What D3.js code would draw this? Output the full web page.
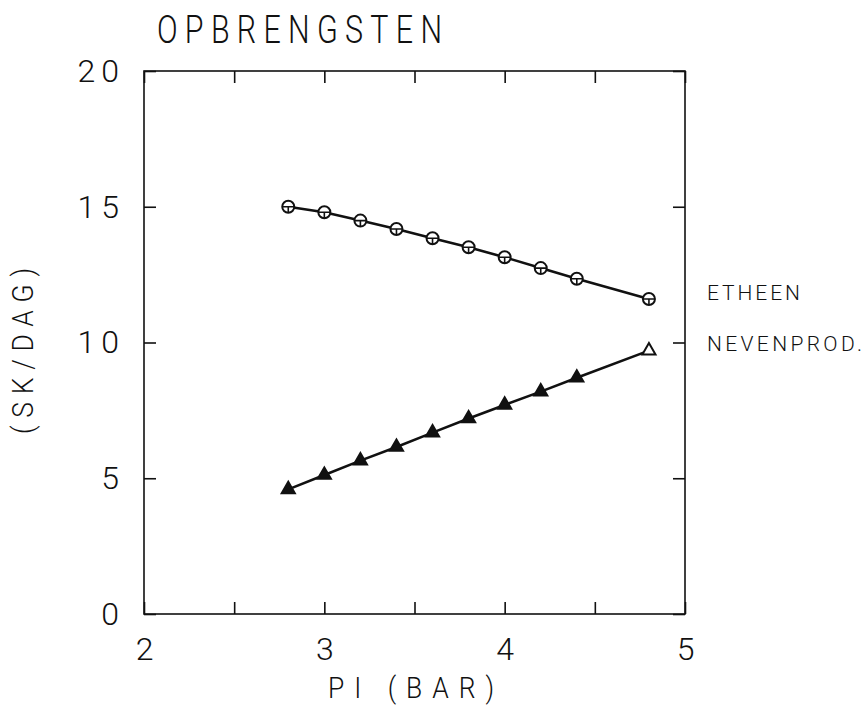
<!DOCTYPE html>
<html>
<head>
<meta charset="utf-8">
<script src="https://cdn.jsdelivr.net/npm/d3@7"></script>
<style>
  body { margin: 0; background: #fff; }
  svg { display: block; }
</style>
</head>
<body>
<svg id="chart" width="868" height="706"></svg>
<script>
// Data
const pressure = [2.8, 3.0, 3.2, 3.4, 3.6, 3.8, 4.0, 4.2, 4.4, 4.8];
const etheen = [15.0, 14.8, 14.49, 14.18, 13.84, 13.51, 13.14, 12.74, 12.35, 11.6];
const nevenprod = [4.59, 5.12, 5.65, 6.15, 6.68, 7.2, 7.7, 8.19, 8.7, 9.7];
const seriesNames = ["ETHEEN", "NEVENPROD."];
const xTicks = [2, 2.5, 3, 3.5, 4, 4.5, 5];
const yTicks = [0, 5, 10, 15, 20];

const svg = d3.select("#chart");
const font = "Roboto, 'DejaVu Sans', sans-serif";

// plot frame
const frameL = 144, frameR = 685, frameT = 71, frameB = 614;
const x = d3.scaleLinear().domain([2, 5]).range([frameL, frameR]);
const y = d3.scaleLinear().domain([0, 20]).range([frameB, frameT]);

svg.append("rect")
    .attr("x", frameL).attr("y", frameT)
    .attr("width", frameR - frameL).attr("height", frameB - frameT)
    .attr("fill", "none").attr("stroke", "#111").attr("stroke-width", 1.6);

// axes, ticks point inward
function styleAxis(g) {
    g.select(".domain").remove();
    g.selectAll("line").attr("stroke", "#111").attr("stroke-width", 1.6);
    g.selectAll("text")
        .attr("font-family", font)
        .attr("font-weight", 300)
        .attr("font-size", 32)
        .attr("letter-spacing", 6)
        .attr("fill", "#111");
}

svg.append("g")
    .attr("transform", `translate(0,${frameB})`)
    .call(d3.axisBottom(x).tickValues(xTicks).tickSize(-12).tickPadding(23)
        .tickFormat(d => Number.isInteger(d) ? d : ""))
    .call(styleAxis)
    .selectAll("text").attr("dx", 3);

svg.append("g")
    .attr("transform", `translate(0,${frameT})`)
    .call(d3.axisTop(x).tickValues(xTicks).tickSize(-12).tickFormat(""))
    .call(styleAxis);

svg.append("g")
    .attr("transform", `translate(${frameL},0)`)
    .call(d3.axisLeft(y).tickValues(yTicks).tickSize(-12).tickPadding(19))
    .call(styleAxis);

svg.append("g")
    .attr("transform", `translate(${frameR},0)`)
    .call(d3.axisRight(y).tickValues(yTicks).tickSize(-12).tickFormat(""))
    .call(styleAxis);

// titles, squeezed a little to look like plotter lettering
const sq = 0.78;
svg.append("text")
    .attr("transform", `translate(157,43) scale(${sq},1)`)
    .attr("font-family", font).attr("font-weight", 300).attr("font-size", 39)
    .attr("textLength", 285 / sq).attr("lengthAdjust", "spacing")
    .attr("fill", "#111")
    .text("OPBRENGSTEN");

svg.append("text")
    .attr("transform", "translate(328,698) scale(0.88,1)")
    .attr("font-family", font).attr("font-weight", 300).attr("font-size", 30)
    .attr("textLength", 166 / 0.88).attr("lengthAdjust", "spacing")
    .attr("fill", "#111")
    .text("PI (BAR)");

svg.append("text")
    .attr("transform", "translate(33,434) rotate(-90) scale(0.88,1)")
    .attr("font-family", font).attr("font-weight", 300).attr("font-size", 30)
    .attr("textLength", 166 / 0.88).attr("lengthAdjust", "spacing")
    .attr("fill", "#111")
    .text("(SK/DAG)");

// lines
const line = d3.line().x(d => x(d[0])).y(d => y(d[1]));
const ethData = pressure.map((p, i) => [p, etheen[i]]);
const nevData = pressure.map((p, i) => [p, nevenprod[i]]);

[ethData, nevData].forEach(ds => {
    svg.append("path")
        .datum(ds)
        .attr("d", line)
        .attr("fill", "none")
        .attr("stroke", "#111")
        .attr("stroke-width", 2.6);
});

// circle markers with inner strokes
const circ = svg.append("g").selectAll("g")
    .data(ethData)
    .enter()
    .append("g")
    .attr("transform", d => `translate(${x(d[0])},${y(d[1])})`);
circ.append("circle")
    .attr("r", 6)
    .attr("fill", "#fff")
    .attr("stroke", "#111")
    .attr("stroke-width", 2);
circ.append("path")
    .attr("d", "M-6,0H6M0,0V6")
    .attr("stroke", "#111")
    .attr("stroke-width", 1.6);

// triangle markers
const tri = d3.symbol().type(d3.symbolTriangle).size(75);
svg.append("g").selectAll("path")
    .data(nevData)
    .enter()
    .append("path")
    .attr("transform", d => `translate(${x(d[0])},${y(d[1])})`)
    .attr("d", tri)
    .attr("fill", (d, i) => i === nevData.length - 1 ? "#fff" : "#111")
    .attr("stroke", "#111")
    .attr("stroke-width", 2);

// series labels at the right of the frame
const labelY = [ethData[ethData.length - 1][1], 10];
svg.append("g").selectAll("text")
    .data(seriesNames)
    .enter()
    .append("text")
    .attr("x", 707)
    .attr("y", (d, i) => y(labelY[i]) + (i === 0 ? 1 : 8))
    .attr("font-family", font).attr("font-weight", 300).attr("font-size", 21)
    .attr("textLength", (d, i) => i === 0 ? 93 : 155)
    .attr("lengthAdjust", "spacing")
    .attr("fill", "#111")
    .text(d => d);
</script>
</body>
</html>
